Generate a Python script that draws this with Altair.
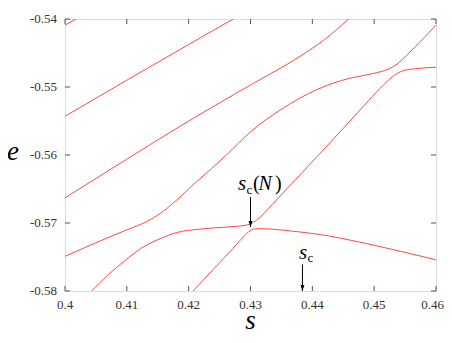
import altair as alt
import pandas as pd

# ---- data ----
s1 = [0.4, 0.4018]
e1 = [-0.5409, -0.54]

s2 = [0.4, 0.41, 0.4272]
e2 = [-0.5543, -0.5490, -0.5400]

s3 = [0.4, 0.41, 0.42, 0.43, 0.438, 0.442, 0.4459]
e3 = [-0.5663, -0.5606, -0.5550, -0.5497, -0.5455, -0.5430, -0.5400]

s4 = [0.4, 0.405, 0.41, 0.4132, 0.4154, 0.4181, 0.4213, 0.4237, 0.4261, 0.43,
      0.4353, 0.4407, 0.4461, 0.4499, 0.4526, 0.4539, 0.4553, 0.4577, 0.46]
e4 = [-0.5749, -0.5729, -0.5710, -0.5698, -0.5686, -0.5666, -0.5639, -0.5620, -0.5600, -0.5566,
      -0.5531, -0.5504, -0.5487, -0.5480, -0.54725, -0.5465, -0.5453, -0.5431, -0.5409]

s5 = [0.4043, 0.407, 0.41, 0.4127, 0.4154, 0.4181, 0.4218, 0.426, 0.4294, 0.4303,
      0.4316, 0.4342, 0.4372, 0.4461, 0.4491, 0.4515, 0.4534, 0.4547, 0.4574, 0.46]
e5 = [-0.58, -0.5776, -0.5753, -0.5735, -0.5723, -0.5714, -0.5709, -0.5706, -0.5703, -0.5700,
      -0.5691, -0.5666, -0.5637, -0.5550, -0.5520, -0.5497, -0.5482, -0.5476, -0.54725, -0.5471]

s6 = [0.4207, 0.424, 0.4272, 0.429, 0.4299, 0.4305, 0.4312, 0.433, 0.4368, 0.4413,
      0.4476, 0.453, 0.46]
e6 = [-0.58, -0.5768, -0.5737, -0.5719, -0.57115, -0.5709, -0.57083, -0.57088, -0.5712, -0.5717,
      -0.5728, -0.5739, -0.5754]

x_ticks = [0.4, 0.41, 0.42, 0.43, 0.44, 0.45, 0.46]
y_ticks = [-0.58, -0.57, -0.56, -0.55, -0.54]

arrow_s = [0.43, 0.4384]
arrow_top = [-0.5662, -0.5761]
arrow_tip = [-0.5706, -0.58]

label_s = [0.43, 0.4384]
label_e = [-0.56515, -0.57529]

# ---- build tables ----
rows = []
for k, (ss, ee) in enumerate([(s1, e1), (s2, e2), (s3, e3), (s4, e4), (s5, e5), (s6, e6)]):
    for a, b in zip(ss, ee):
        rows.append({"s": a, "e": b, "k": k})
df = pd.DataFrame(rows)

xt = pd.DataFrame({"v": x_ticks, "t": [str(v) for v in x_ticks]})
yt = pd.DataFrame({"v": y_ticks, "t": [str(v) for v in y_ticks]})
arr = pd.DataFrame({"s": arrow_s, "top": arrow_top, "tip": arrow_tip})

W, H = 371, 272
FONT = "'Liberation Serif', 'Times New Roman', 'DejaVu Serif', serif"
xs = alt.Scale(domain=[0.4, 0.46], nice=False, zero=False)
ys = alt.Scale(domain=[-0.58, -0.54], nice=False, zero=False)

X = lambda f: alt.X(f, scale=xs, axis=None)
Y = lambda f: alt.Y(f, scale=ys, axis=None)

lines = alt.Chart(df).mark_line(color="#ff4848", strokeWidth=1, interpolate="monotone", clip=True).encode(
    x=X("s:Q"), y=Y("e:Q"), detail="k:N")

tick_col = "#555"
tb = alt.Chart(xt).mark_rule(color=tick_col, strokeWidth=1).encode(
    x=X("v:Q"), y=alt.value(H), y2=alt.value(H - 5))
tt = alt.Chart(xt).mark_rule(color=tick_col, strokeWidth=1).encode(
    x=X("v:Q"), y=alt.value(0), y2=alt.value(5))
tl = alt.Chart(yt).mark_rule(color=tick_col, strokeWidth=1).encode(
    y=Y("v:Q"), x=alt.value(0), x2=alt.value(5))
tr = alt.Chart(yt).mark_rule(color=tick_col, strokeWidth=1).encode(
    y=Y("v:Q"), x=alt.value(W), x2=alt.value(W - 5))

xl = alt.Chart(xt).transform_filter(f"datum.v < {x_ticks[-1]}").mark_text(
    font=FONT, fontSize=13, color="#333", align="center", baseline="alphabetic").encode(
    x=X("v:Q"), y=alt.value(H + 18), text="t:N")
xl_last = alt.Chart(xt).transform_filter(f"datum.v >= {x_ticks[-1]}").mark_text(
    font=FONT, fontSize=13, color="#333", align="right", baseline="alphabetic", dx=8).encode(
    x=X("v:Q"), y=alt.value(H + 18), text="t:N")
yl = alt.Chart(yt).mark_text(font=FONT, fontSize=13, color="#333", align="right",
                             baseline="middle").encode(
    y=Y("v:Q"), x=alt.value(-8), text="t:N")

title_df = pd.DataFrame({"t": ["e", "s"]})
ytitle = alt.Chart(title_df).transform_filter("datum.t == 'e'").mark_text(
    font=FONT, fontSize=27, fontStyle="italic", color="#000", align="center",
    baseline="alphabetic").encode(x=alt.value(-52), y=alt.value(141), text="t:N")
xtitle = alt.Chart(title_df).transform_filter("datum.t == 's'").mark_text(
    font=FONT, fontSize=27, fontStyle="italic", color="#000", align="center",
    baseline="alphabetic").encode(x=alt.value(W / 2), y=alt.value(H + 38), text="t:N")

shaft = alt.Chart(arr).mark_rule(color="#000", strokeWidth=1).encode(
    x=X("s:Q"), y=Y("top:Q"), y2="tip:Q")
head = alt.Chart(arr).mark_point(
    shape="M-0.33,-1L0,0L0.33,-1Z", filled=True, color="#000", size=144, opacity=1).encode(
    x=X("s:Q"), y=Y("tip:Q"))

# label pieces: (index of label, text, dx, dy, size, style)
pieces = [
    (0, "s", -12.5, 0, 21, "italic"),
    (0, "c", -4, 3.5, 13, "normal"),
    (0, "(", 2.5, 0, 20, "normal"),
    (0, "N", 8, 0, 20, "italic"),
    (0, ")", 24.5, 0, 20, "normal"),
    (1, "s", -3.5, 0, 21, "italic"),
    (1, "c", 5, 3.5, 13, "normal"),
]
texts = []
for idx, t, dx, dy, sz, st in pieces:
    d = pd.DataFrame({"s": [label_s[idx]], "e": [label_e[idx]], "t": [t]})
    texts.append(alt.Chart(d).mark_text(
        align="left", baseline="alphabetic", dx=dx, dy=dy, font=FONT, fontSize=sz,
        fontStyle=st, color="#000").encode(
        x=X("s:Q"), y=Y("e:Q"), text="t:N"))

chart = alt.layer(lines, tb, tt, tl, tr, xl, xl_last, yl, ytitle, xtitle, shaft, head, *texts).properties(
    width=W, height=H,
    autosize=alt.AutoSizeParams(type="none"),
    padding={"left": 57, "top": 11, "right": 8, "bottom": 44},
).configure_view(stroke="#555", strokeWidth=2).configure(background="#ffffff")

chart.save("out.html", embed_options={"renderer": "svg", "actions": False})
